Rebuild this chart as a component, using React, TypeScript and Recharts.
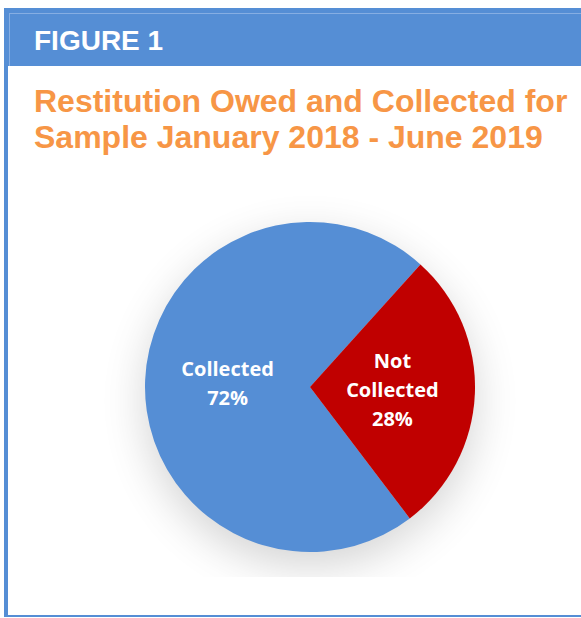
import { Cell, Pie, PieChart } from 'recharts'

const categories = ['Collected', 'Not Collected']
const shares = [72, 28]
const COLORS = ['#558ED5', '#C00000']

const data = categories.map((name, i) => ({ name, value: shares[i] }))

const RAD = Math.PI / 180
const LABEL_FONT = '"Open Sans", "DejaVu Sans", sans-serif'

function renderLabel(props: any) {
  const { cx, cy, midAngle, outerRadius, percent, name } = props
  const r = outerRadius * 0.5
  const x = cx + r * Math.cos(-midAngle * RAD)
  const y = cy + r * Math.sin(-midAngle * RAD)
  const lines = [...String(name).split(' '), `${Math.round(percent * 100)}%`]
  const lh = 29
  const first = y - ((lines.length - 1) * lh) / 2 + 7
  return (
    <text
      x={x}
      y={first}
      textAnchor="middle"
      fill="#fff"
      fontFamily={LABEL_FONT}
      fontWeight={700}
      fontSize={20}
    >
      {lines.map((ln, i) => (
        <tspan key={i} x={x} dy={i === 0 ? 0 : lh}>
          {ln}
        </tspan>
      ))}
    </text>
  )
}

export default function App() {
  return (
    <div style={{ position: 'absolute', left: 0, top: 0, width: 581, height: 618, background: '#fff' }}>
      <style>{`.pie-shadow { filter: url(#pieShadow); }`}</style>
      <svg width={0} height={0} style={{ position: 'absolute' }}>
        <defs>
          <filter id="pieShadow" x="-50%" y="-50%" width="200%" height="200%">
            <feGaussianBlur in="SourceAlpha" stdDeviation={16} />
            <feOffset dx={0} dy={7} result="blur" />
            <feComponentTransfer>
              <feFuncA type="linear" slope={0.42} />
            </feComponentTransfer>
          </filter>
        </defs>
      </svg>

      {/* frame */}
      <div
        style={{
          position: 'absolute',
          left: 4,
          top: 8,
          width: 577,
          height: 607,
          borderLeft: '4px solid #558ED5',
          borderBottom: '2px solid #558ED5',
          boxSizing: 'content-box',
        }}
      />
      <div style={{ position: 'absolute', left: 8, top: 8, width: 573, height: 58, background: '#558ED5' }}>
        <div
          style={{
            position: 'absolute',
            left: 1,
            top: 5,
            right: 0,
            bottom: 0,
            borderTop: '1px solid #86AEE3',
            borderLeft: '1px solid #86AEE3',
          }}
        />
      </div>

      <div
        style={{
          position: 'absolute',
          left: 34,
          top: 27,
          fontFamily: '"Liberation Sans", Arial, sans-serif',
          fontWeight: 700,
          fontSize: 28,
          lineHeight: '28px',
          color: '#fff',
          whiteSpace: 'nowrap',
        }}
      >
        FIGURE 1
      </div>

      <div
        style={{
          position: 'absolute',
          left: 34,
          top: 83,
          fontFamily: '"Liberation Sans", Arial, sans-serif',
          fontWeight: 700,
          fontSize: 32,
          lineHeight: '36px',
          color: '#F79646',
          whiteSpace: 'nowrap',
        }}
      >
        Restitution Owed and Collected for
        <br />
        Sample January 2018 - June 2019
      </div>

      <div style={{ position: 'absolute', left: 8, top: 177 }}>
        <PieChart width={573} height={400} margin={{ top: 0, right: 0, bottom: 0, left: 0 }}>
          <Pie
            className="pie-shadow"
            data={data}
            dataKey="value"
            nameKey="name"
            cx={302}
            cy={210}
            outerRadius={165}
            startAngle={48}
            endAngle={408}
            stroke="none"
            fill="#000"
            legendType="none"
            isAnimationActive={false}
          />
          <Pie
            data={data}
            dataKey="value"
            nameKey="name"
            cx={302}
            cy={210}
            outerRadius={165}
            startAngle={48}
            endAngle={408}
            stroke="none"
            labelLine={false}
            label={renderLabel}
            isAnimationActive={false}
          >
            {data.map((entry, index) => (
              <Cell key={`cell-${index}`} fill={COLORS[index % COLORS.length]} />
            ))}
          </Pie>
        </PieChart>
      </div>
    </div>
  )
}
